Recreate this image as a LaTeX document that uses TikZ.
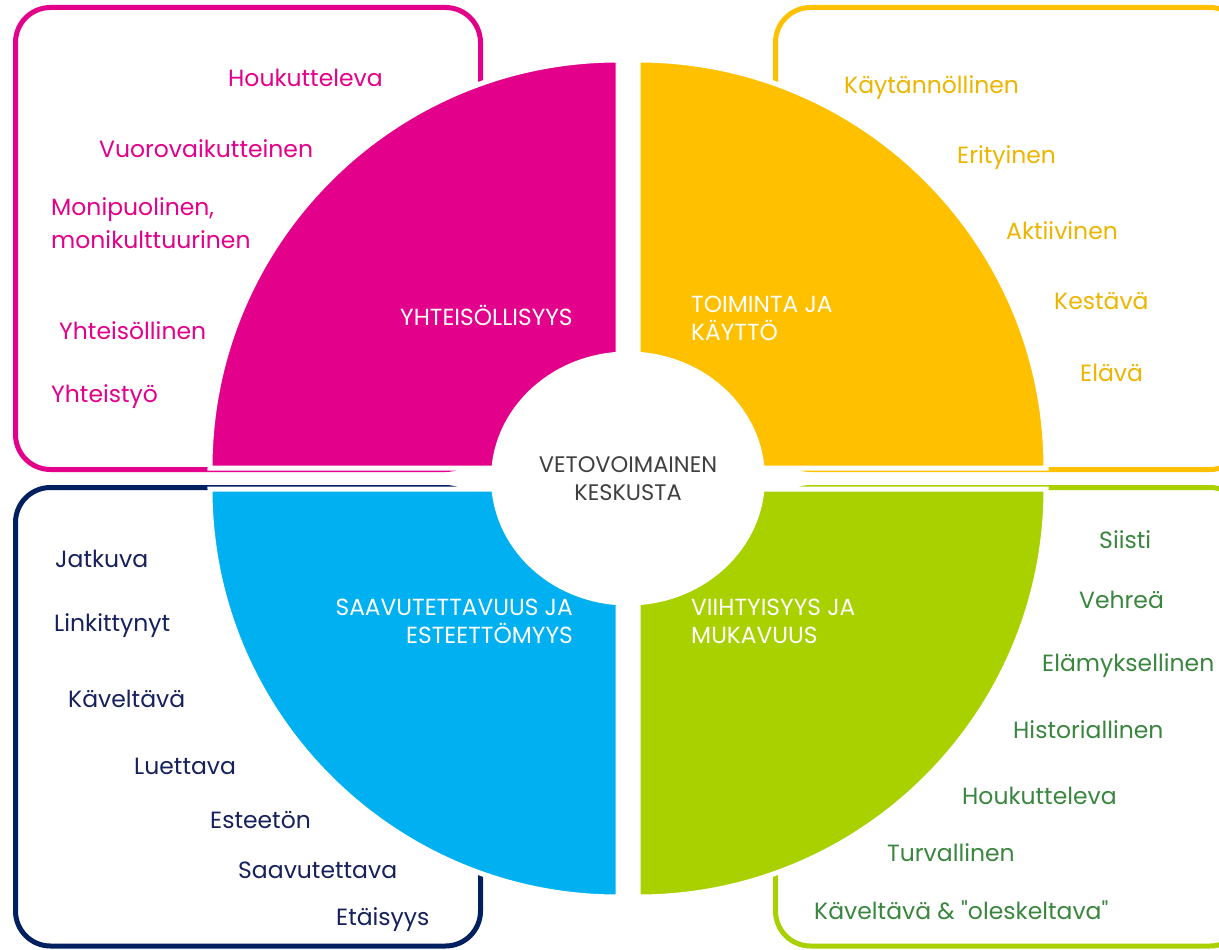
\documentclass[tikz,border=0pt]{standalone}
\usepackage{fontspec}
\setmainfont{Poppins}
\definecolor{yhteispink}{RGB}{227, 0, 139}
\definecolor{toimintayellow}{RGB}{255, 192, 0}
\definecolor{toimintatext}{RGB}{236, 181, 0}
\definecolor{saavutblue}{RGB}{0, 176, 240}
\definecolor{saavutnavy}{RGB}{0, 32, 96}
\definecolor{saavuttext}{RGB}{22, 32, 92}
\definecolor{viihtygreen}{RGB}{169, 209, 0}
\definecolor{viihtytext}{RGB}{58, 134, 62}
\definecolor{hubgray}{RGB}{64, 64, 64}
\tikzset{
    boxline/.style={line width=5pt, rounded corners=35pt},
    quarter/.style={draw=white, line width=5pt},
    word/.style={anchor=base west, inner sep=0pt, font=\fontsize{23.5}{33}\selectfont},
    twoword/.style={anchor=west, inner sep=0pt, align=left, font=\fontsize{23.5}{33}\selectfont},
    quartertext/.style={inner sep=0pt, text=white, font=\fontsize{23.3}{28}\selectfont},
    hubtext/.style={inner sep=0pt, align=center, text=hubgray, font=\fontsize{22.5}{28}\selectfont}
}
\begin{document}
\begin{tikzpicture}[x=1pt, y=-1pt]
    % Frame
    \clip (0,0) rectangle (1219,950);

    % Boxes behind the wheel
    \draw[boxline, yhteispink] (15.5,7.5) rectangle (480.5,469.5);
    \draw[boxline, toimintayellow] (775.5,7.5) rectangle (1245,469.5);
    \draw[boxline, saavutnavy] (15.5,487.5) rectangle (480.5,946);
    \draw[boxline, viihtygreen] (775.5,487.5) rectangle (1245,946);

    % Quarters
    \filldraw[quarter, fill=yhteispink] (618,468) -- (210,468) arc[start angle=180, end angle=270, radius=408] -- cycle;
    \filldraw[quarter, fill=toimintayellow] (638,468) -- (1046,468) arc[start angle=0, end angle=-90, radius=408] -- cycle;
    \filldraw[quarter, fill=saavutblue] (618,489) -- (210,489) arc[start angle=180, end angle=90, radius=408] -- cycle;
    \filldraw[quarter, fill=viihtygreen] (638,489) -- (1046,489) arc[start angle=0, end angle=90, radius=408] -- cycle;

    % Hub
    \fill[white] (628,478.5) ellipse [x radius=137, y radius=127];
    \node[hubtext] (hub) at (628,479) {VETOVOIMAINEN\\KESKUSTA};

    % Quarter titles
    \node[quartertext, anchor=base west] (yhteis) at (400,325) {YHTEISÖLLISYYS};
    \node[quartertext, anchor=west, align=left] (toiminta) at (691,318) {TOIMINTA JA\\KÄYTTÖ};
    \node[quartertext, anchor=east, align=right] (saavut) at (573,621) {SAAVUTETTAVUUS JA\\ESTEETTÖMYYS};
    \node[quartertext, anchor=west, align=left] (viihty) at (691,621) {VIIHTYISYYS JA\\MUKAVUUS};

    % Yhteisöllisyys words
    \node[word, text=yhteispink] (p1) at (228,86) {Houkutteleva};
    \node[word, text=yhteispink] (p2) at (99,157) {Vuorovaikutteinen};
    \node[twoword, text=yhteispink] (p3) at (51,223) {Monipuolinen,\\monikulttuurinen};
    \node[word, text=yhteispink] (p4) at (59,339) {Yhteisöllinen};
    \node[word, text=yhteispink] (p5) at (51,402) {Yhteistyö};

    % Toiminta words
    \node[word, text=toimintatext] (y1) at (844,93) {Käytännöllinen};
    \node[word, text=toimintatext] (y2) at (957,163) {Erityinen};
    \node[word, text=toimintatext] (y3) at (1006,239) {Aktiivinen};
    \node[word, text=toimintatext] (y4) at (1054,309) {Kestävä};
    \node[word, text=toimintatext] (y5) at (1080,381) {Elävä};

    % Saavutettavuus words
    \node[word, text=saavuttext] (b1) at (55,567) {Jatkuva};
    \node[word, text=saavuttext] (b2) at (54,631) {Linkittynyt};
    \node[word, text=saavuttext] (b3) at (68,707) {Käveltävä};
    \node[word, text=saavuttext] (b4) at (134,774) {Luettava};
    \node[word, text=saavuttext] (b5) at (210,828) {Esteetön};
    \node[word, text=saavuttext] (b6) at (238,878) {Saavutettava};
    \node[word, text=saavuttext] (b7) at (336,925) {Etäisyys};

    % Viihtyisyys words
    \node[word, text=viihtytext] (g1) at (1099,548) {Siisti};
    \node[word, text=viihtytext] (g2) at (1079,608) {Vehreä};
    \node[word, text=viihtytext] (g3) at (1042,671) {Elämyksellinen};
    \node[word, text=viihtytext] (g4) at (1013,738) {Historiallinen};
    \node[word, text=viihtytext] (g5) at (962,804) {Houkutteleva};
    \node[word, text=viihtytext] (g6) at (887,861) {Turvallinen};
    \node[word, text=viihtytext] (g7) at (814,919) {Käveltävä \& \textquotedbl oleskeltava\textquotedbl};
\end{tikzpicture}
\end{document}
